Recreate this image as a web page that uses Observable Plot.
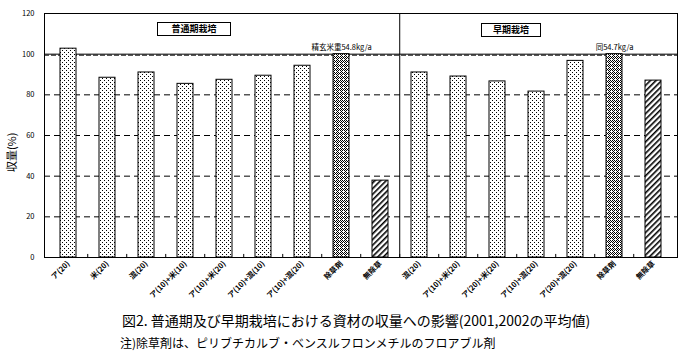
<!DOCTYPE html>
<html>
<head>
<meta charset="utf-8">
<script src="https://cdn.jsdelivr.net/npm/d3@7"></script>
<script src="https://cdn.jsdelivr.net/npm/@observablehq/plot@0.6"></script>
<style>
  body { margin: 0; background: #fff; font-family: "Noto Sans CJK JP", sans-serif; }
  #wrap { position: relative; width: 684px; height: 356px; }
  .gbox { position: absolute; border: 1px solid #000; background: #fff; font-size: 9px; font-weight: bold;
          text-align: center; line-height: 12px; box-sizing: border-box; }
  #caption { position: absolute; left: 122px; top: 310px; font-size: 14px; white-space: nowrap; }
  #note { position: absolute; left: 120px; top: 334px; font-size: 12px; white-space: nowrap; }
</style>
</head>
<body>
<svg width="0" height="0" style="position:absolute">
  <defs>
    <pattern id="dots" width="4" height="4" patternUnits="userSpaceOnUse">
      <rect width="4" height="4" fill="#fff"/>
      <rect x="0" y="0" width="1" height="1" fill="#000"/>
      <rect x="2" y="2" width="1" height="1" fill="#000"/>
    </pattern>
    <pattern id="checks" width="4" height="4" patternUnits="userSpaceOnUse">
      <rect width="4" height="4" fill="#fff"/>
      <rect x="0" y="0" width="1" height="1" fill="#000"/>
      <rect x="2" y="0" width="1" height="1" fill="#000"/>
      <rect x="1" y="1" width="1" height="1" fill="#000"/>
      <rect x="3" y="1" width="1" height="1" fill="#000"/>
      <rect x="0" y="2" width="1" height="1" fill="#000"/>
      <rect x="2" y="2" width="1" height="1" fill="#000"/>
      <rect x="1" y="3" width="1" height="1" fill="#000"/>
    </pattern>
    <pattern id="hatch" width="4" height="4" patternUnits="userSpaceOnUse" patternTransform="rotate(45)">
      <rect width="4" height="4" fill="#fff"/>
      <rect x="0" y="0" width="1.6" height="4" fill="#000"/>
    </pattern>
  </defs>
</svg>
<div id="wrap">
  <div id="chart"></div>
  <div class="gbox" id="g1" style="left:157px; top:22px; width:74px; height:14px;"></div>
  <div class="gbox" id="g2" style="left:481px; top:23px; width:60px; height:14px;"></div>
  <div id="caption"></div>
  <div id="note"></div>
</div>
<script>
const group1Labels = ["ア(20)","米(20)","混(20)","ア(10)+米(10)","ア(10)+米(20)","ア(10)+混(10)","ア(10)+混(20)","除草剤","無除草"];
const group1Values = [102.7, 88.4, 91.0, 85.4, 87.4, 89.4, 94.3, 100, 37.8];
const group2Labels = ["混(20)","ア(10)+米(20)","ア(20)+米(20)","ア(10)+混(20)","ア(20)+混(20)","除草剤","無除草"];
const group2Values = [91.0, 89.0, 86.6, 81.6, 96.7, 100, 87.0];
const yTicks = [0, 20, 40, 60, 80, 100, 120];
const gridTicks = [20, 40, 60, 80];
const refLine = [100];
const groupTitles = ["普通期栽培", "早期栽培"];
const refNotes = ["精玄米重54.8kg/a", "同54.7kg/a"];
const yLabel = "収量(%)";
const captionText = "図2. 普通期及び早期栽培における資材の収量への影響(2001,2002の平均値)";
const noteText = "注)除草剤は、ピリブチカルブ・ベンスルフロンメチルのフロアブル剤";

const labels = group1Labels.concat(group2Labels);
const values = group1Values.concat(group2Values);
const data = labels.map((l, i) => ({
  key: i, label: l, value: values[i],
  type: l === "除草剤" ? "herb" : l === "無除草" ? "none" : "mat"
}));
const herbKeys = data.filter(d => d.type === "herb").map(d => d.key);
const notesData = herbKeys.map((k, i) => ({key: k, t: refNotes[i]}));

const W = 684, ML = 44, MR = 7;
const step = (W - ML - MR) / labels.length;
const font = "Noto Sans CJK JP";

const chart = Plot.plot({
  width: W, height: 302,
  marginLeft: ML, marginRight: MR, marginTop: 13, marginBottom: 45,
  style: {fontFamily: font, background: "#fff", color: "#000"},
  x: {type: "band", domain: d3.range(labels.length), paddingInner: 0.6, paddingOuter: 0.3},
  y: {domain: [0, 120]},
  marks: [
    Plot.ruleY(gridTicks, {stroke: "#000", strokeDasharray: "6,4", strokeWidth: 1}),
    Plot.ruleY(refLine, {stroke: "#000", strokeWidth: 1}),
    Plot.ruleY(refLine, {stroke: "#000", strokeWidth: 1, dy: 1, strokeDasharray: "5,2"}),
    Plot.barY(data.filter(d => d.type === "mat"), {x: "key", y: "value", fill: "url(#dots)", stroke: "#000", strokeWidth: 1}),
    Plot.barY(data.filter(d => d.type === "herb"), {x: "key", y: "value", fill: "url(#checks)", stroke: "#000", strokeWidth: 1}),
    Plot.barY(data.filter(d => d.type === "none"), {x: "key", y: "value", fill: "url(#hatch)", stroke: "#000", strokeWidth: 1}),
    Plot.ruleX(data.slice(1), {x: "key", dx: -step / 2, y1: 0, y2: 1.5, stroke: "#000"}),
    Plot.ruleX([group1Labels.length], {x: d => d, dx: -step / 2, y1: 0, y2: 120, stroke: "#000"}),
    Plot.frame({stroke: "#000"}),
    Plot.axisY({ticks: yTicks, tickSize: 0, tickPadding: 10, fontSize: 7.5, label: null}),
    Plot.axisX({tickSize: 0, tickPadding: 5, tickRotate: -45, fontSize: 7.5, fontWeight: "bold",
      tickFormat: i => labels[i], label: null}),
    Plot.text(notesData, {x: "key", y: 100, text: "t", dy: -7, fontSize: 7.5}),
    Plot.text([{t: yLabel, v: 42}], {y: "v", text: "t", frameAnchor: "left", dx: -32, rotate: -90, fontSize: 11})
  ]
});
document.getElementById("chart").appendChild(chart);
document.getElementById("g1").textContent = groupTitles[0];
document.getElementById("g2").textContent = groupTitles[1];
document.getElementById("caption").textContent = captionText;
document.getElementById("note").textContent = noteText;
</script>
</body>
</html>
